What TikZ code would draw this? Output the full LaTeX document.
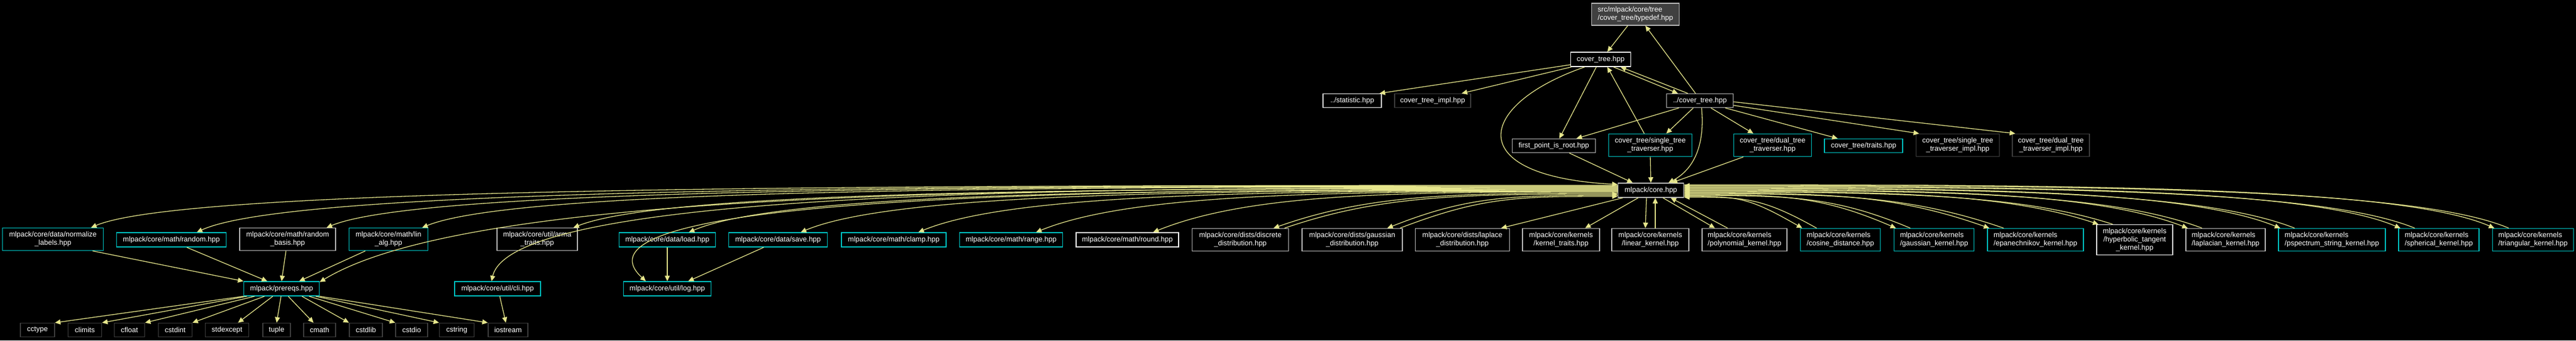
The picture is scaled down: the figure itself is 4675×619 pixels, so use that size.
\documentclass[tikz,border=0pt]{standalone}
\usepackage{fontspec}
\setmainfont{Liberation Sans}
\usetikzlibrary{arrows.meta,calc}
\definecolor{ecol}{RGB}{230,230,140}
\definecolor{ccyan}{RGB}{0,200,200}
\definecolor{lgray}{RGB}{191,191,191}
\definecolor{dgray}{RGB}{64,64,64}
\definecolor{rootfill}{RGB}{64,64,64}
\tikzset{
  box/.style={draw, rectangle, fill=black, text=white, line width=1.5pt,
    font=\fontsize{13}{15}\selectfont, inner sep=0pt, align=center, minimum height=26pt},
  two/.style={minimum height=41pt},
  three/.style={minimum height=55pt},
  cyb/.style={draw=ccyan},
  lgb/.style={draw=lgray},
  whb/.style={draw=white},
  dgb/.style={draw=dgray},
  edge/.style={draw=ecol, line width=1.3pt, arrows={-Triangle[length=10pt,width=9pt]}},
  back/.style={arrows={Triangle[length=10pt,width=9pt]-}},
}
\newcommand\ledge[4][]{\draw[edge,#1] let \p1=(#2),\p2=(#3) in (\p1) .. controls ({\x1-0.45*(\x1-\x2)},\y1) and ({\x2+(#4)},\y1) .. (\p2);}
\newcommand\redge[4][]{\draw[edge,#1] let \p1=(#2),\p2=(#3) in (\p1) .. controls ({\x1+0.45*(\x2-\x1)},\y1) and ({\x2-(#4)},\y1) .. (\p2);}
\begin{document}
\begin{tikzpicture}[x=1pt,y=-1pt]
\fill[black] (0,0) rectangle (4675,619);
\useasboundingbox (0,0) rectangle (4675,619);
% top part
\node[box,lgb,fill=rootfill,minimum width=159pt,minimum height=40pt,align=left] (typedef) at (2968,26) {src/mlpack/core/tree\\/cover\_tree/typedef.hpp};
\node[box,whb,minimum width=109pt] (ct) at (2905,108) {cover\_tree.hpp};
\node[box,whb,minimum width=106pt,minimum height=25pt] (stat) at (2454,183) {../statistic.hpp};
\node[box,dgb,minimum width=138pt,minimum height=25pt] (impl) at (2600,183) {cover\_tree\_impl.hpp};
\node[box,lgb,minimum width=121pt,minimum height=25pt] (dc) at (3085,183) {../cover\_tree.hpp};
\node[box,lgb,minimum width=151pt,minimum height=25pt] (first) at (2820,265) {first\_point\_is\_root.hpp};
\node[box,cyb,two,minimum width=151pt] (single) at (2995,264) {cover\_tree/single\_tree\\\_traverser.hpp};
\node[box,cyb,two,minimum width=141pt] (dual) at (3217,264) {cover\_tree/dual\_tree\\\_traverser.hpp};
\node[box,cyb,minimum width=142pt,minimum height=25pt] (traits) at (3382,265) {cover\_tree/traits.hpp};
\node[box,dgb,two,minimum width=151pt] (simpl) at (3553,264) {cover\_tree/single\_tree\\\_traverser\_impl.hpp};
\node[box,dgb,two,minimum width=140pt] (dimpl) at (3722,264) {cover\_tree/dual\_tree\\\_traverser\_impl.hpp};
\node[box,lgb,minimum width=119pt] (core) at (2996,346) {mlpack/core.hpp};
% row 5
\node[box,cyb,two,minimum width=183pt] (norm) at (96,435) {mlpack/core/data/normalize\\\_labels.hpp};
\node[box,cyb,minimum width=199pt] (random) at (311,436) {mlpack/core/math/random.hpp};
\node[box,lgb,two,minimum width=174pt] (rbasis) at (522,435) {mlpack/core/math/random\\\_basis.hpp};
\node[box,cyb,two,minimum width=143pt] (linalg) at (705,435) {mlpack/core/math/lin\\\_alg.hpp};
\node[box,lgb,two,minimum width=146pt] (arma) at (975,435) {mlpack/core/util/arma\\\_traits.hpp};
\node[box,cyb,minimum width=175pt] (load) at (1211,436) {mlpack/core/data/load.hpp};
\node[box,cyb,minimum width=179pt] (save) at (1412,436) {mlpack/core/data/save.hpp};
\node[box,cyb,minimum width=190pt] (clamp) at (1622,436) {mlpack/core/math/clamp.hpp};
\node[box,cyb,minimum width=187pt] (range) at (1835,436) {mlpack/core/math/range.hpp};
\node[box,whb,minimum width=186pt] (round) at (2046,436) {mlpack/core/math/round.hpp};
\node[box,lgb,two,minimum width=175pt] (discrete) at (2251,436) {mlpack/core/dists/discrete\\\_distribution.hpp};
\node[box,lgb,two,minimum width=182pt] (gdist) at (2454,436) {mlpack/core/dists/gaussian\\\_distribution.hpp};
\node[box,lgb,two,minimum width=171pt] (ldist) at (2654,436) {mlpack/core/dists/laplace\\\_distribution.hpp};
\node[box,lgb,two,minimum width=140pt] (ktraits) at (2833,436) {mlpack/core/kernels\\/kernel\_traits.hpp};
\node[box,lgb,two,minimum width=140pt] (linear) at (2995,436) {mlpack/core/kernels\\/linear\_kernel.hpp};
\node[box,lgb,two,minimum width=154pt,align=left] (poly) at (3166,436) {mlpack/core/kernels\\/polynomial\_kernel.hpp};
\node[box,cyb,two,minimum width=145pt,align=left] (cosine) at (3340,436) {mlpack/core/kernels\\/cosine\_distance.hpp};
\node[box,cyb,two,minimum width=145pt,align=left] (gkern) at (3510,436) {mlpack/core/kernels\\/gaussian\_kernel.hpp};
\node[box,cyb,two,minimum width=174pt,align=left] (epan) at (3694,436) {mlpack/core/kernels\\/epanechnikov\_kernel.hpp};
\node[box,whb,three,minimum width=138pt] (hyper) at (3874,436) {mlpack/core/kernels\\/hyperbolic\_tangent\\\_kernel.hpp};
\node[box,lgb,two,minimum width=144pt,align=left] (lapk) at (4039,436) {mlpack/core/kernels\\/laplacian\_kernel.hpp};
\node[box,cyb,two,minimum width=194pt,align=left] (pspec) at (4232,436) {mlpack/core/kernels\\/pspectrum\_string\_kernel.hpp};
\node[box,cyb,two,minimum width=146pt,align=left] (spher) at (4426,436) {mlpack/core/kernels\\/spherical\_kernel.hpp};
\node[box,cyb,two,minimum width=147pt,align=left] (tri) at (4597,436) {mlpack/core/kernels\\/triangular\_kernel.hpp};
% row 6
\node[box,cyb,minimum width=137pt] (prereqs) at (511,525) {mlpack/prereqs.hpp};
\node[box,cyb,minimum width=156pt] (cli) at (903,525) {mlpack/core/util/cli.hpp};
\node[box,cyb,minimum width=159pt] (log) at (1211,525) {mlpack/core/util/log.hpp};
% row 7
\node[box,dgb,minimum width=62pt,minimum height=25pt] (cctype) at (68,600) {cctype};
\node[box,dgb,minimum width=61pt,minimum height=25pt] (climits) at (154,600) {climits};
\node[box,dgb,minimum width=55pt,minimum height=25pt] (cfloat) at (235,600) {cfloat};
\node[box,dgb,minimum width=61pt,minimum height=25pt] (cstdint) at (318,600) {cstdint};
\node[box,dgb,minimum width=79pt,minimum height=25pt] (stdexcept) at (412,600) {stdexcept};
\node[box,dgb,minimum width=50pt,minimum height=25pt] (tuple) at (502,600) {tuple};
\node[box,dgb,minimum width=58pt,minimum height=25pt] (cmath) at (580,600) {cmath};
\node[box,dgb,minimum width=60pt,minimum height=25pt] (cstdlib) at (664,600) {cstdlib};
\node[box,dgb,minimum width=58pt,minimum height=25pt] (cstdio) at (747,600) {cstdio};
\node[box,dgb,minimum width=63pt,minimum height=25pt] (cstring) at (829,600) {cstring};
\node[box,dgb,minimum width=72pt,minimum height=25pt] (iostream) at (922,600) {iostream};
% top edges
\draw[edge] ([xshift=-14pt]typedef.south) -- ([xshift=12pt]ct.north);
\draw[edge] ([xshift=-8pt]dc.north) -- ([xshift=18pt]typedef.south);
\draw[edge] ([xshift=23pt]ct.south) -- ([xshift=-40pt]dc.north);
\draw[edge] ([xshift=-22pt]dc.north) -- ([xshift=36pt]ct.south);
\draw[edge] (ct.190) -- ([xshift=-4pt]stat.north east);
\draw[edge] ([xshift=2pt]ct.south west) -- ([xshift=-17pt]impl.north east);
\draw[edge] ([xshift=-8pt]ct.south) -- ([xshift=10pt]first.north);
\draw[edge] ([xshift=-11pt]single.north) -- ([xshift=12pt]ct.south);
\draw[edge] ([xshift=-29pt]ct.south) .. controls (2680,190) and (2650,320) .. (core.170);
\draw[edge] ([xshift=-38pt]dc.south) -- ([xshift=41pt]first.north);
\draw[edge] ([xshift=-12pt]dc.south) -- ([xshift=29pt]single.north);
\draw[edge] ([xshift=3pt]dc.south) .. controls (3095,270) and (3070,310) .. ([xshift=32pt]core.north);
\draw[edge] ([xshift=20pt]dc.south) -- ([xshift=-35pt]dual.north);
\draw[edge] ([xshift=46pt]dc.south) -- ([xshift=-47pt]traits.north);
\draw[edge] (dc.-8) -- ([xshift=6pt]simpl.north west);
\draw[edge] (dc.-2) -- ([xshift=6pt]dimpl.north west);
\draw[edge] ([xshift=28pt]first.south) -- ([xshift=-33pt]core.north);
\draw[edge] (single.south) -- (core.north);
\draw[edge] ([xshift=-53pt]dual.south) -- ([xshift=38pt]core.north);
% core to the left
\ledge{[yshift=9pt]core.west}{[xshift=-23pt]norm.north east}{180pt}
\ledge{[yshift=8pt]core.west}{[xshift=-54pt]random.north east}{180pt}
\ledge{[yshift=7pt]core.west}{[xshift=-17pt]rbasis.north east}{180pt}
\ledge{[yshift=6pt]core.west}{[xshift=-11pt]linalg.north east}{180pt}
\ledge{[yshift=5pt]core.west}{[xshift=-11pt]cli.north}{40pt}
\ledge{[yshift=4pt]core.west}{prereqs.10}{280pt}
\ledge{[yshift=3pt]core.west}{[xshift=-8pt]arma.north east}{180pt}
\ledge{[yshift=2pt]core.west}{[xshift=-39pt]log.north}{-180pt}
\ledge{[yshift=1pt]core.west}{[xshift=-49pt]load.north east}{180pt}
\ledge{[yshift=0pt]core.west}{[xshift=-49pt]save.north east}{180pt}
\ledge{[yshift=-1pt]core.west}{[xshift=-51pt]clamp.north east}{180pt}
\ledge{[yshift=-2pt]core.west}{[xshift=-49pt]range.north east}{180pt}
\ledge{[yshift=-3pt]core.west}{[xshift=-47pt]round.north east}{180pt}
\ledge{[yshift=-5pt]core.west}{[xshift=-28pt]discrete.north east}{180pt}
\ledge[back]{[yshift=-7pt]core.west}{[xshift=-8pt]discrete.north east}{180pt}
\ledge{[yshift=-9pt]core.west}{[xshift=-28pt]gdist.north east}{150pt}
\ledge[back]{[yshift=-11pt]core.west}{[xshift=-5pt]gdist.north east}{150pt}
% core downwards
\draw[edge] ([xshift=-51pt]core.south) -- ([xshift=-16pt]ldist.north east);
\draw[edge] ([xshift=-23pt]core.south) -- ([xshift=-27pt]ktraits.north east);
\draw[edge] ([xshift=-8pt]core.south) -- ([xshift=-9pt]linear.north);
\draw[edge] ([xshift=9pt]linear.north) -- ([xshift=8pt]core.south);
\draw[edge] ([xshift=22pt]core.south) -- ([xshift=24pt]poly.north west);
\draw[edge] ([xshift=47pt]poly.north west) -- ([xshift=36pt]core.south);
% core to the right
\redge{[yshift=10pt]core.east}{[xshift=4pt]tri.north west}{180pt}
\redge[back]{[yshift=8.5pt]core.east}{[xshift=30pt]tri.north west}{180pt}
\redge{[yshift=7pt]core.east}{[xshift=4pt]spher.north west}{180pt}
\redge[back]{[yshift=5.5pt]core.east}{[xshift=30pt]spher.north west}{180pt}
\redge{[yshift=4pt]core.east}{[xshift=4pt]pspec.north west}{180pt}
\redge[back]{[yshift=2.5pt]core.east}{[xshift=30pt]pspec.north west}{180pt}
\redge{[yshift=1pt]core.east}{[xshift=4pt]lapk.north west}{180pt}
\redge[back]{[yshift=-0.5pt]core.east}{[xshift=30pt]lapk.north west}{180pt}
\redge{[yshift=-2pt]core.east}{[xshift=4pt]hyper.north west}{180pt}
\redge[back]{[yshift=-3.5pt]core.east}{[xshift=30pt]hyper.north west}{180pt}
\redge{[yshift=-5pt]core.east}{[xshift=4pt]epan.north west}{180pt}
\redge[back]{[yshift=-6.5pt]core.east}{[xshift=30pt]epan.north west}{180pt}
\redge{[yshift=-8pt]core.east}{[xshift=4pt]gkern.north west}{140pt}
\redge[back]{[yshift=-9.5pt]core.east}{[xshift=30pt]gkern.north west}{140pt}
\redge{[yshift=-11pt]core.east}{[xshift=4pt]cosine.north west}{100pt}
\redge[back]{[yshift=-12.5pt]core.east}{[xshift=30pt]cosine.north west}{100pt}
% row 5 to row 6
\draw[edge] ([xshift=72pt]norm.south) -- (prereqs.north west);
\draw[edge] ([xshift=28pt]random.south) -- ([xshift=-26pt]prereqs.north);
\draw[edge] ([xshift=-3pt]rbasis.south) -- (prereqs.north);
\draw[edge] ([xshift=-42pt]linalg.south) -- ([xshift=32pt]prereqs.north);
\draw[edge] (load.south) -- (log.north);
\draw[edge] ([xshift=-26pt]save.south) -- ([xshift=38pt]log.north);
\draw[edge] ([xshift=4pt]cli.south) -- ([xshift=-4pt]iostream.north);
% prereqs to std headers
\draw[edge] (prereqs.south west) -- (cctype.north east);
\draw[edge] ([xshift=-63pt]prereqs.south) -- (climits.north east);
\draw[edge] ([xshift=-49pt]prereqs.south) -- (cfloat.north east);
\draw[edge] ([xshift=-31pt]prereqs.south) -- (cstdint.north east);
\draw[edge] ([xshift=-16pt]prereqs.south) -- ([xshift=20pt]stdexcept.north);
\draw[edge] ([xshift=-1pt]prereqs.south) -- (tuple.north);
\draw[edge] ([xshift=12pt]prereqs.south) -- ([xshift=-11pt]cmath.north);
\draw[edge] ([xshift=37pt]prereqs.south) -- (cstdlib.north west);
\draw[edge] ([xshift=50pt]prereqs.south) -- (cstdio.north west);
\draw[edge] ([xshift=62pt]prereqs.south) -- (cstring.north west);
\draw[edge] (prereqs.south east) -- (iostream.north west);
\end{tikzpicture}
\end{document}
